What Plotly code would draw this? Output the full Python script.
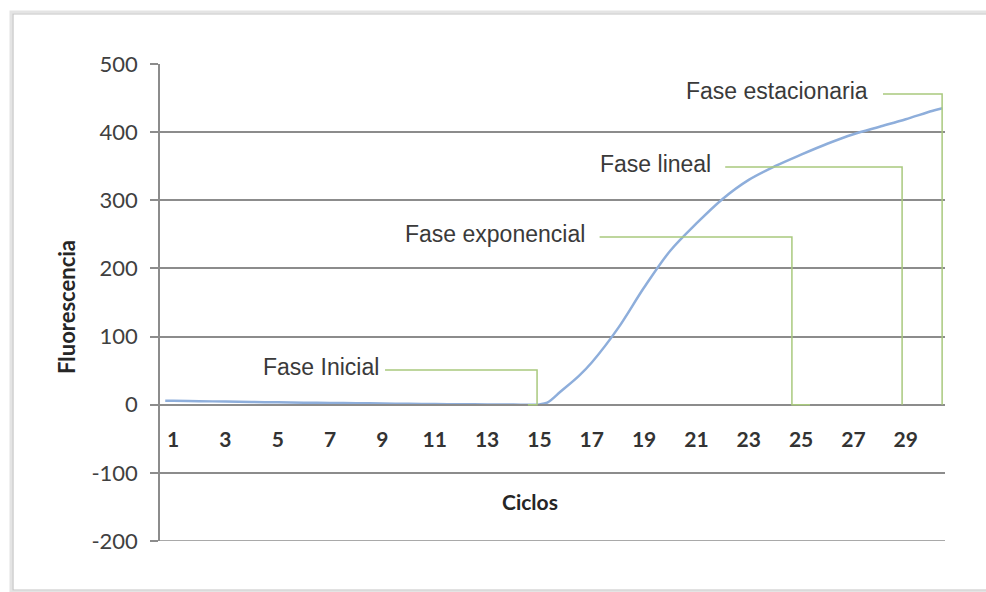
import plotly.graph_objects as go

# qPCR amplification curve: fluorescence per cycle
cycles = [0.7, 1, 2, 3, 4, 5, 6, 7, 8, 9, 10, 11, 12, 13, 14, 15, 15.3, 15.8,
          16.5, 17, 18, 19, 20, 21, 22, 23, 24, 25, 26, 27, 28, 29, 30, 30.4]
fluorescence = [6, 5.8, 5.2, 4.6, 4.0, 3.5, 3.0, 2.6, 2.2, 1.8, 1.4, 1.0, 0.7, 0.4, 0.2, 0.5, 3, 19,
                42, 62, 112, 172, 226, 266, 302, 330, 350, 367, 383, 397, 408, 419, 431, 435]

x_tick_values = list(range(1, 30, 2))
x_tick_labels = [str(v) for v in x_tick_values]
y_tick_values = [-200, -100, 0, 100, 200, 300, 400, 500]
y_tick_labels = ["-200", "-100", "0", "100", "200", "300", "400", "500"]
y_min = -200

# Phase callouts: label, where the leader starts, its level, the cycle it drops at, foot end
phase_names = ["Fase Inicial", "Fase exponencial", "Fase lineal", "Fase estacionaria"]
phase_text_end = [8.95, 16.8, 21.63, 27.63]
phase_line_start = [9.1, 17.3, 22.1, 28.13]
phase_level = [51, 246, 349, 456]
phase_drop = [14.91, 24.65, 28.86, 30.39]
phase_foot = [14.56, 25.34, 28.86, 30.39]

W, H = 986, 592
L, R, T, B = 160, 41, 64, 51
pw, ph = W - L - R, H - T - B


def px_x(px):
    return (px - L) / pw


def px_y(py):
    return (H - B - py) / ph


fig = go.Figure()
fig.add_trace(go.Scatter(
    x=cycles, y=fluorescence, mode="lines",
    line=dict(color="#8eaedb", width=2.5, shape="spline", smoothing=0.9),
    hoverinfo="skip", showlegend=False,
))

shapes = []
# chart frame with a soft shadow
shapes.append(dict(type="rect", xref="paper", yref="paper",
                   x0=px_x(11), x1=px_x(1000), y0=px_y(592), y1=px_y(12),
                   line=dict(color="#e4e4e4", width=3), layer="below"))
shapes.append(dict(type="rect", xref="paper", yref="paper",
                   x0=px_x(13), x1=px_x(1000), y0=px_y(590), y1=px_y(14),
                   line=dict(color="#c4c4c4", width=1.2), layer="below"))
# bottom gridline of the value axis
shapes.append(dict(type="line", xref="paper", yref="y", x0=0, x1=1, y0=y_min, y1=y_min,
                   line=dict(color="#8c8c8c", width=1.5), layer="below"))

annotations = []
for name, tx, xs, lvl, xd, xf in zip(phase_names, phase_text_end, phase_line_start,
                                      phase_level, phase_drop, phase_foot):
    shapes.append(dict(
        type="path", xref="x", yref="y",
        path=f"M {xs},{lvl} H {xd} V 0 H {xf}",
        line=dict(color="#a9c97e", width=1.5),
    ))
    annotations.append(dict(
        x=tx, y=lvl + 4, xref="x", yref="y", text=name, showarrow=False,
        xanchor="right", yanchor="middle",
        font=dict(family="Liberation Sans, Arial", size=23, color="#3a3a3a"),
    ))

annotations.append(dict(
    x=px_x(66), y=px_y(307), xref="paper", yref="paper", text="<b>Fluorescencia</b>",
    showarrow=False, textangle=-90, xanchor="center", yanchor="middle",
    font=dict(family="Lato", size=22, color="#262626"),
))
annotations.append(dict(
    x=px_x(530), y=px_y(501), xref="paper", yref="paper", text="<b>Ciclos</b>",
    showarrow=False, xanchor="center", yanchor="middle",
    font=dict(family="Lato", size=21, color="#262626"),
))

fig.update_layout(
    width=W, height=H,
    margin=dict(l=L, r=R, t=T, b=B, pad=0),
    paper_bgcolor="white", plot_bgcolor="white",
    shapes=shapes, annotations=annotations,
    xaxis=dict(
        range=[0.5, 30.5], tickmode="array", tickvals=x_tick_values, ticktext=x_tick_labels,
        showgrid=False, zeroline=False, showline=True, linecolor="#8c8c8c", linewidth=1.5,
        anchor="free", position=2 / 7, ticks="", ticklabelstandoff=16,
        tickfont=dict(family="Lato", size=21, color="#333333", weight="bold"),
    ),
    yaxis=dict(
        range=[y_min, 500], tickmode="array", tickvals=y_tick_values, ticktext=y_tick_labels,
        showgrid=True, gridcolor="#8c8c8c", gridwidth=1.5, zeroline=False,
        showline=True, linecolor="#8c8c8c", linewidth=1.5,
        ticks="outside", ticklen=8, tickcolor="#8c8c8c", tickwidth=1.5,
        ticklabelstandoff=8,
        tickfont=dict(family="Lato", size=22, color="#404040"),
    ),
)

fig.write_html("out.html")
